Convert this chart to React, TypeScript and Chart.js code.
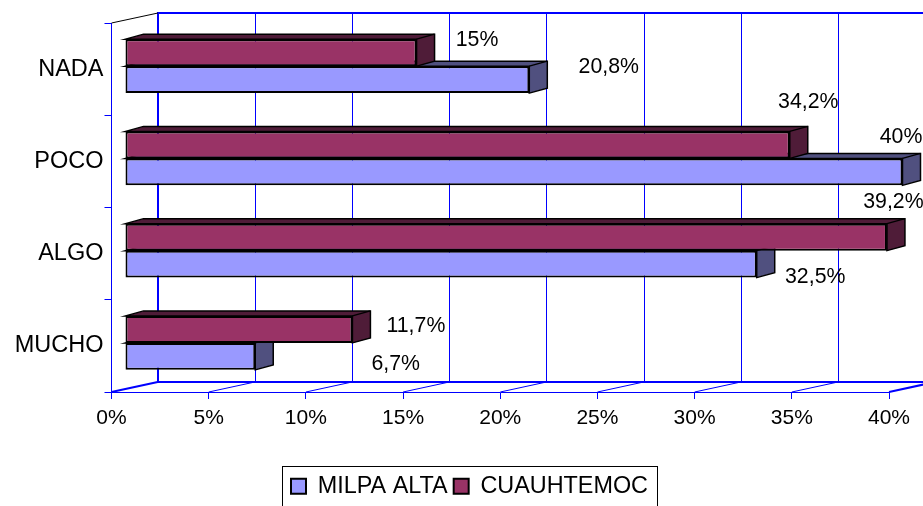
import React, { useEffect, useRef } from "react";
import { Chart, registerables } from "chart.js";

Chart.register(...registerables);

const categories = ["NADA", "POCO", "ALGO", "MUCHO"];
const milpaAlta = [20.8, 40, 32.5, 6.7];
const cuauhtemoc = [15, 34.2, 39.2, 11.7];
const ticks = [0, 5, 10, 15, 20, 25, 30, 35, 40];

const FONT = "'Liberation Sans', Arial, sans-serif";
const BLUE = "#0000ff";

// Projection of the 3D box
const WALL_DX = 46.2;
const WALL_DY = -10;
const BAR_DX = 13.5;
const BAR_DY = -3;
const DEPTH_DX = 18;
const DEPTH_DY = -5;

// Hand-placed data label offsets from the bar end (dataset -> category)
const labelOffsets: number[][][] = [
  [[60, -14], [18, -44], [6, -36], [63, -4]],
  [[79, -13.5], [-2, -36], [58, 12], [140, 7]],
];

const shades = ["#4f1c38", "#50507f"];

const boxPlugin = {
  id: "box3d",
  beforeDraw(chart: any) {
    // keep the long category labels from being clipped at the axis box
    chart.scales.y.left = 0;
  },
  beforeDatasetsDraw(chart: any) {
    const { ctx, chartArea, scales } = chart;
    const x = scales.x;
    const backBottom = Math.round(chartArea.bottom + WALL_DY);
    const backTop = Math.round(chartArea.top + WALL_DY);
    ctx.save();
    ctx.strokeStyle = BLUE;
    for (const t of ticks) {
      const px = x.getPixelForValue(t);
      const bx = Math.round(px + WALL_DX);
      ctx.lineWidth = t === 0 ? 2 : 1;
      ctx.beginPath();
      ctx.moveTo(t === 0 ? bx : bx + 0.5, backTop);
      ctx.lineTo(t === 0 ? bx : bx + 0.5, backBottom);
      ctx.stroke();
      ctx.lineWidth = t === 0 || t === 40 ? 2 : 1;
      ctx.beginPath();
      ctx.moveTo(px, chartArea.bottom);
      ctx.lineTo(px + WALL_DX, backBottom);
      ctx.stroke();
    }
    ctx.lineWidth = 2;
    const x0 = Math.round(x.getPixelForValue(0) + WALL_DX);
    ctx.beginPath();
    ctx.moveTo(x0 - 1, backTop);
    ctx.lineTo(chart.width, backTop);
    ctx.moveTo(x0 - 1, backBottom);
    ctx.lineTo(chart.width, backBottom);
    ctx.stroke();
    ctx.strokeStyle = "#000";
    ctx.lineWidth = 1;
    ctx.beginPath();
    ctx.moveTo(chartArea.left, chartArea.top);
    ctx.lineTo(x0, backTop);
    ctx.stroke();
    ctx.restore();
    ctx.save();
    ctx.translate(BAR_DX, BAR_DY);
  },
  beforeDatasetDraw(chart: any, args: any) {
    const { ctx } = chart;
    const shade = shades[args.index];
    ctx.save();
    ctx.fillStyle = shade;
    ctx.strokeStyle = "#000";
    ctx.lineWidth = 1.5;
    ctx.lineJoin = "miter";
    for (const el of args.meta.data) {
      const { x, y, base, height } = el.getProps(["x", "y", "base", "height"], true);
      const top = y - height / 2;
      const bottom = y + height / 2;
      ctx.beginPath();
      ctx.moveTo(base, top);
      ctx.lineTo(base + DEPTH_DX, top + DEPTH_DY);
      ctx.lineTo(x + DEPTH_DX, top + DEPTH_DY);
      ctx.lineTo(x + DEPTH_DX, bottom + DEPTH_DY);
      ctx.lineTo(x, bottom);
      ctx.lineTo(x, top);
      ctx.closePath();
      ctx.fill();
      ctx.stroke();
      ctx.beginPath();
      ctx.moveTo(x, top);
      ctx.lineTo(x + DEPTH_DX, top + DEPTH_DY);
      ctx.stroke();
    }
    ctx.restore();
  },
  afterDatasetsDraw(chart: any) {
    const { ctx } = chart;
    ctx.restore();
    ctx.save();
    ctx.font = `21.3px ${FONT}`;
    ctx.fillStyle = "#000";
    ctx.textAlign = "center";
    ctx.textBaseline = "middle";
    chart.data.datasets.forEach((ds: any, d: number) => {
      chart.getDatasetMeta(d).data.forEach((el: any, i: number) => {
        const [ox, oy] = labelOffsets[d][i];
        const text = `${String(ds.data[i]).replace(".", ",")}%`;
        ctx.fillText(text, el.x + BAR_DX + ox + 0.5, el.y + BAR_DY + oy + 1);
      });
    });
    ctx.restore();
  },
  afterDraw(chart: any) {
    const { ctx, legend } = chart;
    const boxes = legend.legendHitBoxes;
    if (!boxes || !boxes.length) return;
    const left = Math.min(...boxes.map((b: any) => b.left)) - 9;
    const right = Math.max(...boxes.map((b: any) => b.left + b.width)) + 9;
    ctx.save();
    ctx.strokeStyle = "#000";
    ctx.lineWidth = 1;
    ctx.strokeRect(Math.round(left) + 0.5, 466.5, Math.round(right - left), 60);
    ctx.restore();
  },
};

export default function App() {
  const ref = useRef<HTMLCanvasElement>(null);
  useEffect(() => {
    const chart = new Chart(ref.current as HTMLCanvasElement, {
      type: "bar",
      data: {
        labels: categories,
        datasets: [
          { label: "CUAUHTEMOC", data: cuauhtemoc, backgroundColor: "#993366", borderColor: "#000", borderWidth: 2, borderSkipped: false, clip: false as any },
          { label: "MILPA ALTA", data: milpaAlta, backgroundColor: "#9999ff", borderColor: "#000", borderWidth: 2, borderSkipped: false, clip: false as any },
        ],
      },
      plugins: [boxPlugin],
      options: {
        indexAxis: "y",
        responsive: false,
        animation: false,
        categoryPercentage: 0.585,
        barPercentage: 1,
        layout: { autoPadding: false, padding: { left: 50, right: 34, top: 23, bottom: -2 } },
        plugins: {
          tooltip: { enabled: false },
          title: { display: false },
          legend: {
            position: "bottom",
            reverse: true,
            labels: {
              color: "#000",
              font: { family: FONT, size: 23.4 },
              boxWidth: 15,
              boxHeight: 15,
              padding: 6,
            },
          },
        },
        scales: {
          x: {
            type: "linear",
            min: 0,
            max: 40,
            afterFit(scale: any) {
              scale.height = 506 + 2 - 392 - scale.chart.legend.height;
            },
            ticks: {
              stepSize: 5,
              color: "#000",
              padding: 7,
              maxRotation: 0,
              font: { family: FONT, size: 21 },
              callback: (v: any) => `${v}%`,
            },
            grid: { drawOnChartArea: false, color: BLUE, tickLength: 7, lineWidth: 1 },
            border: { color: BLUE, width: 1 },
          },
          y: {
            type: "category",
            afterFit(scale: any) {
              scale.width = 61.5;
            },
            ticks: { color: "#000", padding: 1, font: { family: FONT, size: 23.5 } },
            grid: { drawOnChartArea: false, color: BLUE, tickLength: 7, lineWidth: 1 },
            border: { color: BLUE, width: 1 },
          },
        },
      } as any,
    });
    return () => chart.destroy();
  }, []);
  return (
    <div style={{ position: "absolute", left: 0, top: 0, width: 923, height: 506, overflow: "hidden", background: "#fff" }}>
      <canvas ref={ref} width={923} height={506} style={{ display: "block" }} />
    </div>
  );
}
